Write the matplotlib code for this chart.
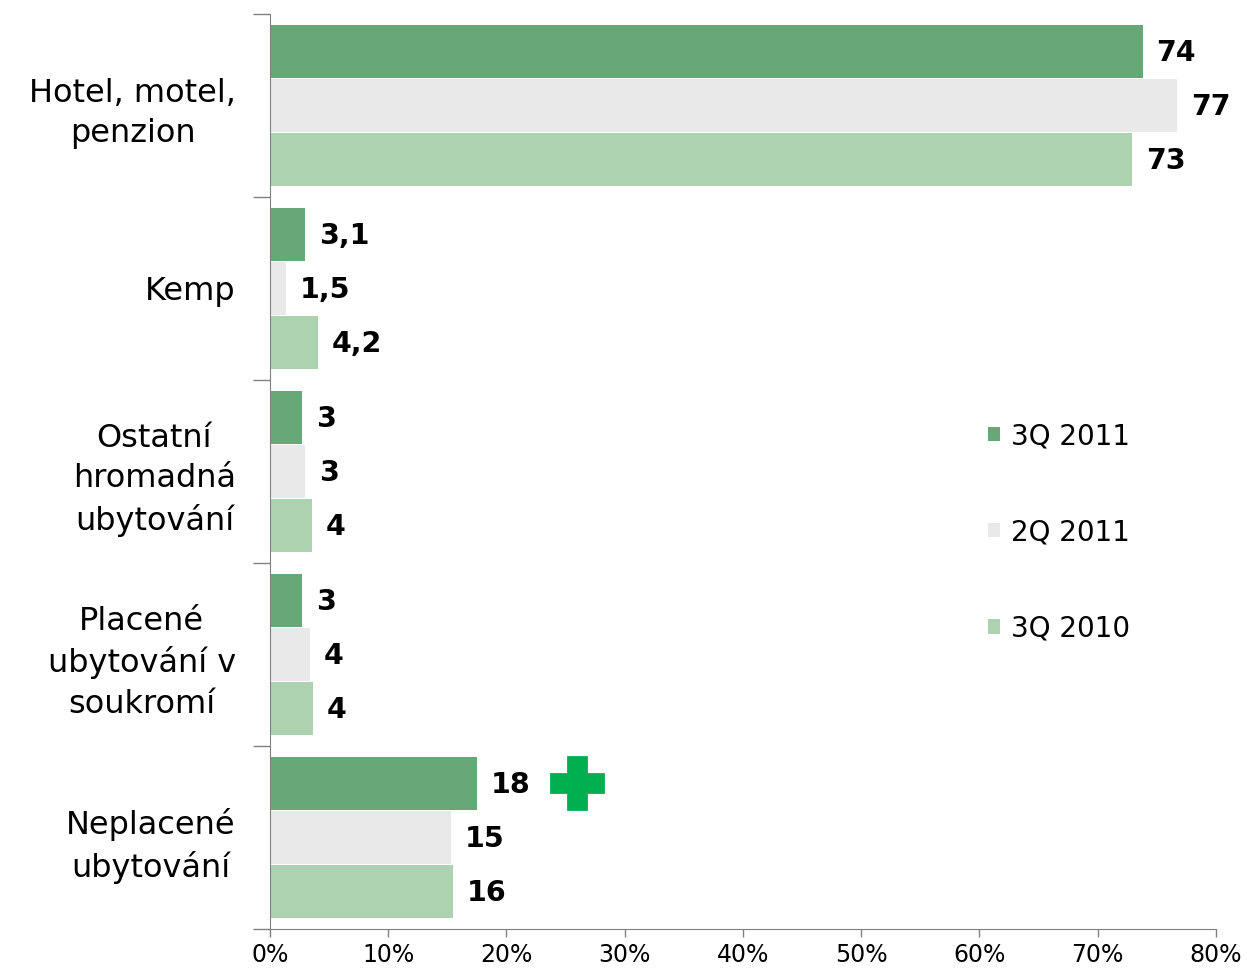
import matplotlib
matplotlib.use("Agg")
import matplotlib.pyplot as plt
from matplotlib.patches import Patch
from matplotlib.ticker import FixedLocator, PercentFormatter

categories = ["Hotel, motel,\npenzion", "Kemp", "Ostatní\nhromadná\nubytování",
              "Placené\nubytování v\nsoukromí", "Neplacené\nubytování"]
series_names = ["3Q 2011", "2Q 2011", "3Q 2010"]
values_3q2011 = [73.8, 3.0, 2.7, 2.7, 17.5]
values_2q2011 = [76.7, 1.35, 3.0, 3.4, 15.3]
values_3q2010 = [72.9, 4.05, 3.55, 3.6, 15.5]
labels_3q2011 = ["74", "3,1", "3", "3", "18"]
labels_2q2011 = ["77", "1,5", "3", "4", "15"]
labels_3q2010 = ["73", "4,2", "4", "4", "16"]
colors = ["#68A776", "#E9E9E9", "#ACD2AF"]

series = [values_3q2011, values_2q2011, values_3q2010]
labels = [labels_3q2011, labels_2q2011, labels_3q2010]

fig = plt.figure(figsize=(12.47, 9.71), dpi=100)
ax = fig.add_axes([0.2165, 0.0433, 0.7586, 0.9423])

bar_h = 0.29
step = 0.295
for i, (vals, labs, col) in enumerate(zip(series, labels, colors)):
    ys = [k + (i - 1) * step for k in range(len(categories))]
    ax.barh(ys, vals, height=bar_h, color=col, edgecolor="none")
    for y, v, lab in zip(ys, vals, labs):
        ax.annotate(lab, (v, y), xytext=(10, -1), textcoords="offset points",
                    ha="left", va="center", fontsize=20.5, fontweight="bold")

# green plus next to the Neplacené 3Q 2011 value
ax.plot([26], [4 - step], marker="P", markersize=37, color="#00B050",
        markeredgecolor="#00B050", markeredgewidth=2, clip_on=False)

ax.set_xlim(0, 80)
ax.set_ylim(4.5, -0.5)
ax.xaxis.set_major_formatter(PercentFormatter(decimals=0))
ax.set_xticks(range(0, 81, 10))
ax.tick_params(axis="x", direction="out", length=6, width=1, color="#808080",
               labelsize=17, pad=4)

ax.set_yticks(range(len(categories)))
ax.set_yticklabels(categories, fontsize=23, multialignment="center",
                   linespacing=1.38)
ax.tick_params(axis="y", which="major", length=0, pad=24.5)
ax.yaxis.set_minor_locator(FixedLocator([k - 0.5 for k in range(len(categories) + 1)]))
ax.tick_params(axis="y", which="minor", direction="out", length=12, width=1,
               color="#808080")

for side in ("top", "right"):
    ax.spines[side].set_visible(False)
for side in ("left", "bottom"):
    ax.spines[side].set_color("#808080")

handles = [Patch(facecolor=c, edgecolor="none") for c in colors]
ax.legend(handles, series_names, loc="center left",
          bbox_to_anchor=(988 / 1247, 0.452), bbox_transform=fig.transFigure,
          frameon=False, fontsize=20, handlelength=0.43, handleheight=0.43,
          handletextpad=0.4, labelspacing=2.45, borderpad=0, borderaxespad=0)

fig.savefig("out.png", dpi=100)
